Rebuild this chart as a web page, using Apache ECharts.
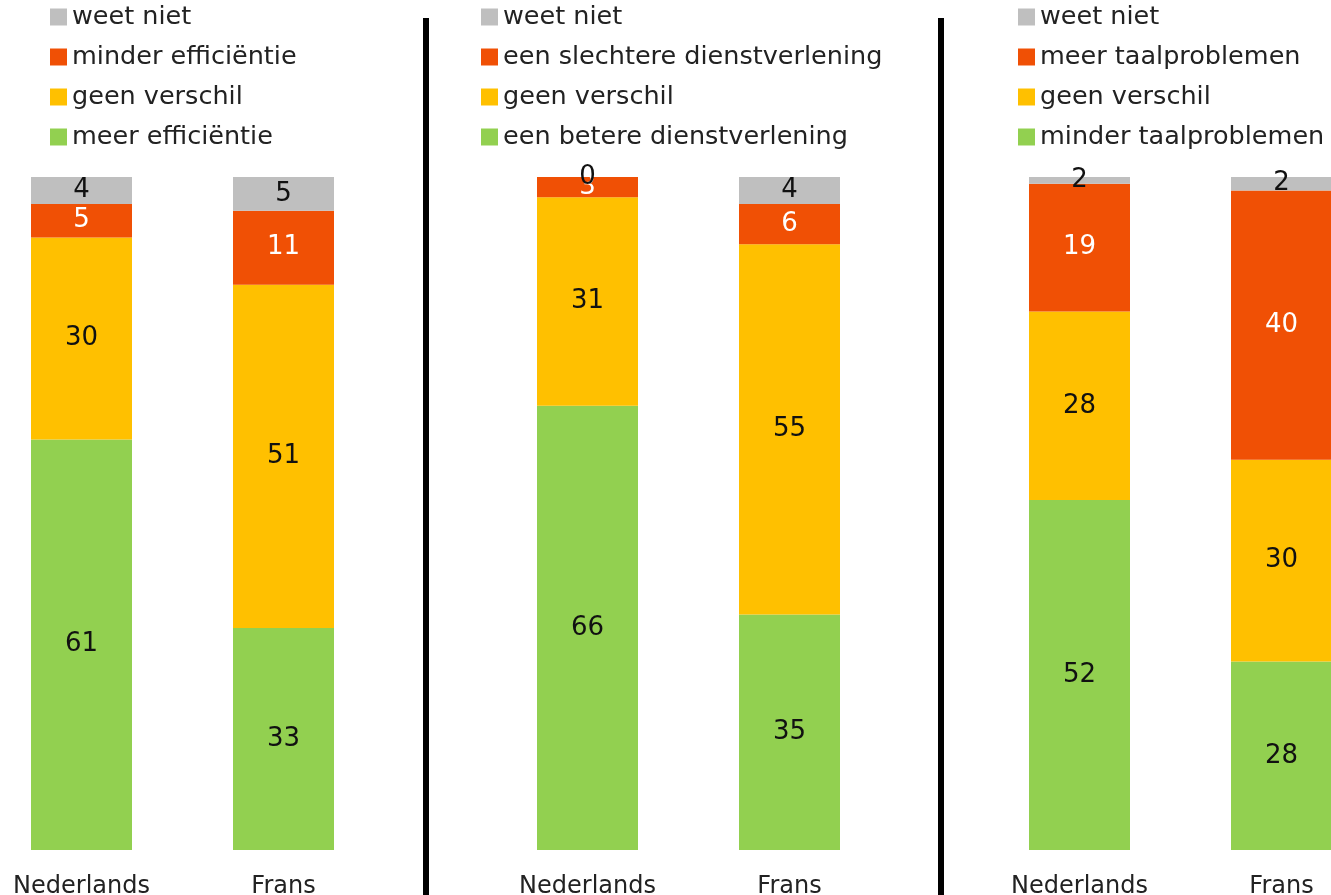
<!DOCTYPE html>
<html>
<head>
<meta charset="utf-8">
<script src="https://cdn.jsdelivr.net/npm/echarts@6/dist/echarts.min.js"></script>
<style>
html,body{margin:0;padding:0;background:#fff;}
#chart{width:1331px;height:895px;}
</style>
</head>
<body>
<div id="chart"></div>
<script>
// ---- data ----
const categories = ['Nederlands', 'Frans'];

// Panel 1: efficiëntie
const p1Names = ['meer efficiëntie', 'geen verschil', 'minder efficiëntie', 'weet niet'];
const p1Better = [61, 33];
const p1Same   = [30, 51];
const p1Worse  = [5, 11];
const p1DontKnow = [4, 5];

// Panel 2: dienstverlening
const p2Names = ['een betere dienstverlening', 'geen verschil', 'een slechtere dienstverlening', 'weet niet'];
const p2Better = [66, 35];
const p2Same   = [31, 55];
const p2Worse  = [3, 6];
const p2DontKnow = [0, 4];

// Panel 3: taalproblemen
const p3Names = ['minder taalproblemen', 'geen verschil', 'meer taalproblemen', 'weet niet'];
const p3Better = [52, 28];
const p3Same   = [28, 30];
const p3Worse  = [19, 40];
const p3DontKnow = [2, 2];

// ---- style ----
const colors = ['#92D050', '#FFC000', '#F05005', '#BFBFBF'];
const labelColors = ['#111', '#111', '#fff', '#111'];
const FONT = 'DejaVu Sans, Verdana, sans-serif';

const panels = [
  {names: p1Names, data: [p1Better, p1Same, p1Worse, p1DontKnow], center: 81.5, legendLeft: 50},
  {names: p2Names, data: [p2Better, p2Same, p2Worse, p2DontKnow], center: 587.5, legendLeft: 481},
  {names: p3Names, data: [p3Better, p3Same, p3Worse, p3DontKnow], center: 1079.5, legendLeft: 1018}
];

const grids = [], xAxes = [], yAxes = [], series = [], legends = [];
const bandW = 404;
panels.forEach((p, i) => {
  grids.push({left: p.center - bandW / 4, width: bandW, top: 177, bottom: 45,
              containLabel: false, outerBoundsMode: 'none'});
  xAxes.push({
    type: 'category', gridIndex: i, data: categories,
    axisLine: {show: false}, axisTick: {show: false},
    axisLabel: {color: '#222', fontFamily: FONT, fontSize: 24, margin: 25}
  });
  yAxes.push({type: 'value', gridIndex: i, min: 0, max: 100, show: false, splitLine: {show: false}});
  p.names.forEach((name, k) => {
    series.push({
      type: 'bar', name: name, xAxisIndex: i, yAxisIndex: i, stack: 'p' + i,
      data: p.data[k], barWidth: 101,
      itemStyle: {color: colors[k]},
      label: {show: true, position: 'inside', color: labelColors[k], fontFamily: FONT, fontSize: 26},
      emphasis: {disabled: true}
    });
  });
  legends.push({
    orient: 'vertical', left: p.legendLeft, top: 4, padding: 0,
    data: p.names.slice().reverse(),
    icon: 'rect', itemWidth: 17, itemHeight: 17, itemGap: 14,
    textStyle: {color: '#222', fontFamily: FONT, fontSize: 25.5},
    selectedMode: false
  });
});

const chart = echarts.init(document.getElementById('chart'));
chart.setOption({
  backgroundColor: '#fff',
  animation: false,
  grid: grids, xAxis: xAxes, yAxis: yAxes, series: series, legend: legends,
  graphic: [
    {type: 'rect', shape: {x: 423, y: 18, width: 6, height: 880}, style: {fill: '#000'}},
    {type: 'rect', shape: {x: 938, y: 18, width: 6, height: 880}, style: {fill: '#000'}}
  ]
});
</script>
</body>
</html>
